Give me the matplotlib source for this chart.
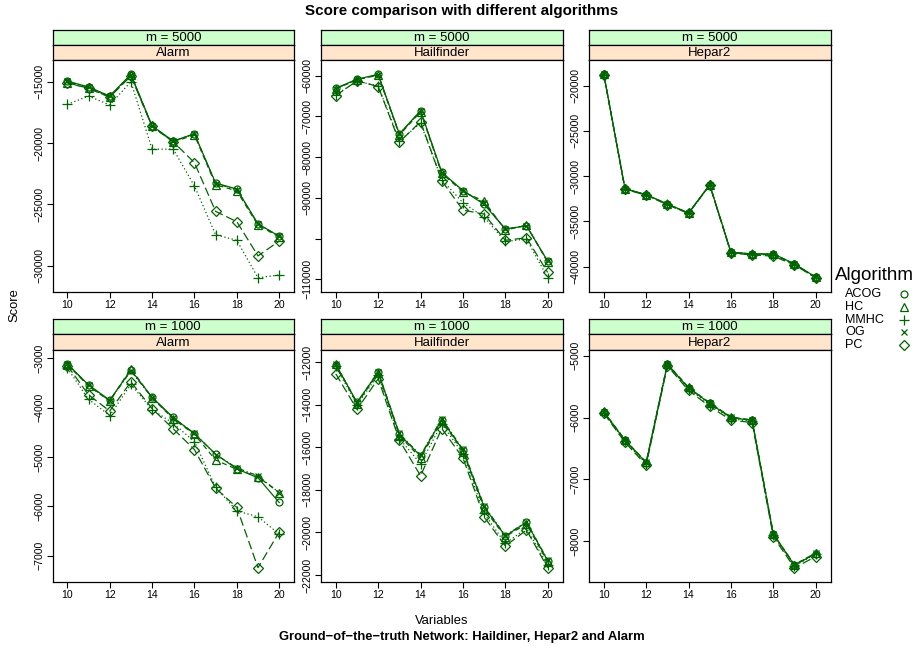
import matplotlib
matplotlib.use("Agg")
import matplotlib.pyplot as plt
from matplotlib.lines import Line2D
from matplotlib.ticker import FixedLocator, FixedFormatter

plt.rcParams['font.family'] = ['Liberation Sans', 'DejaVu Sans']

variables = [10, 11, 12, 13, 14, 15, 16, 17, 18, 19, 20]
algorithms = ["ACOG", "HC", "MMHC", "OG", "PC"]
networks = ["Alarm", "Hailfinder", "Hepar2"]
sample_sizes = [5000, 1000]

# scores, one dict per panel
alarm_5000 = {
    "ACOG": [-14950, -15430, -16170, -14400, -18600, -19840, -19240, -23260, -23750, -26580, -27600],
    "HC":   [-15100, -15550, -16250, -14450, -18650, -19900, -19350, -23400, -23900, -26700, -27650],
    "MMHC": [-16850, -16170, -16900, -15000, -20500, -20500, -23500, -27470, -27930, -30980, -30760],
    "OG":   [-14980, -15450, -16200, -14420, -18620, -19850, -19260, -23300, -23800, -26620, -27580],
    "PC":   [-15080, -15540, -16250, -14540, -18650, -19900, -21600, -25570, -26410, -29200, -27990],
}
hailfinder_5000 = {
    "ACOG": [-63100, -60900, -59700, -74300, -68600, -83700, -88200, -91600, -97600, -96900, -105500],
    "HC":   [-63300, -61000, -59900, -74600, -68900, -84000, -88500, -90800, -97900, -96700, -105800],
    "MMHC": [-64700, -61400, -62500, -76000, -71700, -85500, -91200, -94700, -100700, -100100, -109600],
    "OG":   [-63200, -61000, -59800, -74400, -68700, -83900, -88300, -91300, -97700, -96800, -105600],
    "PC":   [-64900, -61300, -62700, -76300, -71300, -85800, -93000, -94000, -100400, -99800, -108300],
}
hepar2_5000 = {
    "ACOG": [-18750, -31380, -32040, -33070, -34060, -30940, -38390, -38580, -38580, -39680, -41150],
    "HC":   [-18750, -31400, -32060, -33100, -34080, -30960, -38420, -38620, -38650, -39720, -41180],
    "MMHC": [-18780, -31420, -32080, -33120, -34100, -30990, -38450, -38650, -38700, -39760, -41200],
    "OG":   [-18760, -31390, -32050, -33080, -34070, -30950, -38400, -38600, -38600, -39700, -41160],
    "PC":   [-18770, -31450, -32100, -33150, -34120, -31000, -38480, -38700, -38830, -39800, -41220],
}
alarm_1000 = {
    "ACOG": [-3115, -3540, -3850, -3240, -3790, -4200, -4530, -4940, -5240, -5420, -5920],
    "HC":   [-3130, -3560, -3870, -3210, -3800, -4230, -4540, -5060, -5250, -5400, -5720],
    "MMHC": [-3200, -3830, -4160, -3530, -4040, -4320, -4690, -5610, -6090, -6210, -6560],
    "OG":   [-3120, -3550, -3860, -3260, -3800, -4210, -4520, -4950, -5220, -5380, -5720],
    "PC":   [-3150, -3740, -4070, -3480, -4020, -4430, -4850, -5630, -6020, -7240, -6520],
}
hailfinder_1000 = {
    "ACOG": [-12120, -13890, -12470, -15390, -16410, -14700, -16140, -18800, -20170, -19520, -21330],
    "HC":   [-12100, -13950, -12500, -15450, -16500, -14750, -16200, -18900, -20200, -19600, -21400],
    "MMHC": [-12200, -14000, -12600, -15590, -16770, -14900, -16300, -19110, -20520, -19810, -21550],
    "OG":   [-12080, -13900, -12450, -15350, -16380, -14650, -16100, -18750, -20150, -19500, -21300],
    "PC":   [-12550, -14220, -12780, -15670, -17340, -15120, -16500, -19270, -20640, -19890, -21660],
}
hepar2_1000 = {
    "ACOG": [-5910, -6370, -6730, -5140, -5520, -5770, -6000, -6045, -7890, -8390, -8200],
    "HC":   [-5900, -6360, -6720, -5130, -5510, -5760, -5990, -6040, -7880, -8380, -8190],
    "MMHC": [-5920, -6380, -6750, -5150, -5540, -5790, -6020, -6060, -7900, -8400, -8210],
    "OG":   [-5905, -6365, -6725, -5135, -5515, -5765, -5995, -6040, -7885, -8385, -8195],
    "PC":   [-5930, -6400, -6770, -5160, -5560, -5820, -6040, -6080, -7930, -8430, -8250],
}

yticks_5000 = {
    "Alarm": [-15000, -20000, -25000, -30000],
    "Hailfinder": [-60000, -70000, -80000, -90000, -100000, -110000],
    "Hepar2": [-20000, -25000, -30000, -35000, -40000],
}
yticks_1000 = {
    "Alarm": [-3000, -4000, -5000, -6000, -7000],
    "Hailfinder": [-12000, -14000, -16000, -18000, -20000, -22000],
    "Hepar2": [-5000, -6000, -7000, -8000],
}
# lattice dropped this label because it overlapped its neighbours
hidden_labels = [-100000]
xticks = [10, 12, 14, 16, 18, 20]

panels = {
    5000: {"Alarm": alarm_5000, "Hailfinder": hailfinder_5000, "Hepar2": hepar2_5000},
    1000: {"Alarm": alarm_1000, "Hailfinder": hailfinder_1000, "Hepar2": hepar2_1000},
}
yticks = {5000: yticks_5000, 1000: yticks_1000}

markers = {"ACOG": "o", "HC": "^", "MMHC": "+", "OG": "x", "PC": "D"}
styles = {"ACOG": "-", "HC": (0, (4, 3)), "MMHC": (0, (1, 2)),
          "OG": (0, (1, 2, 4, 2)), "PC": (0, (7, 3))}
msize = {"ACOG": 5, "HC": 5.5, "MMHC": 7, "OG": 5, "PC": 5}
green = "#006400"

W, H = 919, 648
fig = plt.figure(figsize=(W / 100, H / 100), dpi=100)


def px_axes(x0, y0, x1, y1):
    return fig.add_axes([x0 / W, 1 - y1 / H, (x1 - x0) / W, (y1 - y0) / H])


col_left = [52.5, 321, 589]
col_w = 241.5
rows = {5000: (29.5, 292), 1000: (319, 582)}
strip_h = 15.3

for m in sample_sizes:
    top, bottom = rows[m]
    for i, net in enumerate(networks):
        x0 = col_left[i]
        x1 = x0 + col_w
        # strips
        for k, (txt, fc) in enumerate([("m = %d" % m, "#ccffcc"), (net, "#ffe5cc")]):
            sax = px_axes(x0, top + k * strip_h, x1, top + (k + 1) * strip_h)
            sax.set_facecolor(fc)
            sax.set_xticks([])
            sax.set_yticks([])
            for sp in sax.spines.values():
                sp.set_linewidth(0.9)
            sax.text(0.5, 0.45, txt, ha="center", va="center", fontsize=9.5,
                     transform=sax.transAxes)
        ax = px_axes(x0, top + 2 * strip_h, x1, bottom)
        data = panels[m][net]
        for alg in algorithms:
            ax.plot(variables, data[alg], color=green, lw=0.9, ls=styles[alg],
                    marker=markers[alg], ms=msize[alg], mfc="none", mew=0.9)
        ax.margins(x=0.07, y=0.07)
        ticks = yticks[m][net]
        ax.yaxis.set_major_locator(FixedLocator(ticks))
        ax.yaxis.set_major_formatter(FixedFormatter(
            ["" if t in hidden_labels else "\u2212%d" % abs(t) for t in ticks]))
        ax.set_xticks(xticks)
        ax.tick_params(axis="both", labelsize=7.6, length=4, width=0.8, pad=2,
                       direction="out")
        for lab in ax.get_yticklabels():
            lab.set_rotation(90)
            lab.set_va("center")
        for sp in ax.spines.values():
            sp.set_linewidth(0.9)

fig.text(462 / W, 1 - 11.5 / H, "Score comparison with different algorithms",
         ha="center", va="center", fontsize=10.9, fontweight="bold")
fig.text(441.5 / W, 1 - 620.5 / H, "Variables", ha="center", va="center", fontsize=9.4)
fig.text(462 / W, 1 - 637 / H, "Ground\u2212of\u2212the\u2212truth Network: Haildiner, Hepar2 and Alarm",
         ha="center", va="center", fontsize=9.4, fontweight="bold")
fig.text(14 / W, 1 - 305.5 / H, "Score", ha="center", va="center", rotation=90, fontsize=9.4)

# legend, laid out like lattice's key
fig.text(835 / W, 1 - 275 / H, "Algorithm", ha="left", va="center", fontsize=13.5)
for j, alg in enumerate(algorithms):
    ly = 1 - (294 + j * 12.8) / H
    fig.text(845 / W, ly, alg, ha="left", va="center", fontsize=9.1)
    fig.add_artist(Line2D([904 / W], [ly], transform=fig.transFigure, ls="none",
                          marker=markers[alg], ms=msize[alg], mfc="none",
                          mec=green, mew=0.9))

fig.savefig("out.png", dpi=100)
